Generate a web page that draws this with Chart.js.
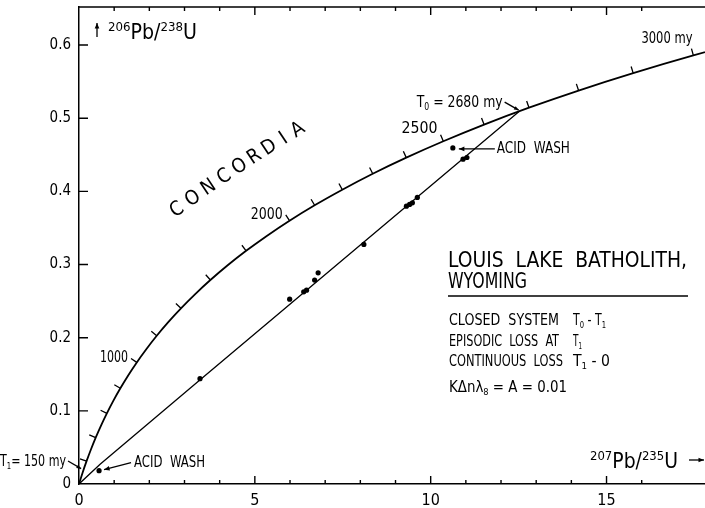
<!DOCTYPE html>
<html>
<head>
<meta charset="utf-8">
<script src="https://cdn.jsdelivr.net/npm/chart.js@4/dist/chart.umd.min.js"></script>
<style>
  html, body { margin: 0; padding: 0; background: #fff; }
  canvas { display: block; }
</style>
</head>
<body>
<canvas id="concordiaChart" width="705" height="508"></canvas>
<script>
// concordia curve, read every 100 my
const concordiaAge = [0, 100, 200, 300, 400, 500, 600, 700, 800, 900, 1000, 1100, 1200, 1300, 1400, 1500,
    1600, 1700, 1800, 1900, 2000, 2100, 2200, 2300, 2400, 2500, 2600, 2700, 2800, 2900, 3000, 3100];
const concordiaX = [0, 0.102, 0.215, 0.339, 0.475, 0.626, 0.792, 0.975, 1.176, 1.398, 1.643, 1.913, 2.210, 2.538,
    2.899, 3.297, 3.736, 4.219, 4.752, 5.339, 5.986, 6.700, 7.486, 8.352, 9.306, 10.359, 11.518, 12.796,
    14.205, 15.758, 17.469, 19.354];
const concordiaY = [0, 0.0155, 0.0312, 0.0472, 0.0634, 0.0799, 0.0966, 0.1136, 0.1308, 0.1484, 0.1662, 0.1842,
    0.2026, 0.2212, 0.2401, 0.2593, 0.2788, 0.2986, 0.3187, 0.3391, 0.3599, 0.3810, 0.4023, 0.4241, 0.4461,
    0.4685, 0.4913, 0.5144, 0.5378, 0.5616, 0.5858, 0.6104];
const concordiaTickAges = [200, 400, 600, 800, 1000, 1200, 1400, 1600, 1800, 2000, 2100, 2200, 2300, 2400,
    2500, 2600, 2700, 2800, 2900, 3000];
const concordiaLabelAges = [1000, 2000, 2500, 3000];
const concordiaLabelTexts = ['1000', '2000', '2500', '3000 my'];

// discordia (T0 = 2680 my to origin)
const discordiaX = [0, 0.6, 3.47, 12.53];
const discordiaY = [0, 0.027, 0.1435, 0.5097];

// zircon fractions
const sampleX = [3.44, 5.99, 6.39, 6.47, 6.70, 6.80, 8.10, 9.31, 9.40, 9.48, 9.62, 10.92, 11.03];
const sampleY = [0.1440, 0.2527, 0.2627, 0.2650, 0.2787, 0.2887, 0.3275, 0.3798, 0.3821, 0.3843, 0.3917, 0.4440, 0.4463];
const acidWashX = [0.57, 10.63];
const acidWashY = [0.0182, 0.4594];

const xTickLabels = ['0', '5', '10', '15'];
const yTickLabels = ['0', '0.1', '0.2', '0.3', '0.4', '0.5', '0.6'];

const FONT = '"Liberation Sans Narrow", "DejaVu Sans Condensed", "Liberation Sans", sans-serif';

function pts(xs, ys) {
    return xs.map((x, i) => ({ x: x, y: ys[i] }));
}

// text with sub/superscripts, optionally squeezed to a width
function drawRich(ctx, parts, x, y, size, width) {
    let w = 0;
    parts.forEach(p => {
        ctx.font = (p[1] ? size * 0.62 : size) + 'px ' + FONT;
        w += ctx.measureText(p[0]).width;
    });
    const k = width ? width / w : 1;
    ctx.save();
    ctx.translate(x, y);
    ctx.scale(k, 1);
    ctx.textBaseline = 'middle';
    ctx.textAlign = 'left';
    ctx.fillStyle = '#000';
    let cx = 0;
    parts.forEach(p => {
        const s = p[1] ? size * 0.62 : size;
        ctx.font = s + 'px ' + FONT;
        const dy = p[1] === 'sub' ? size * 0.28 : (p[1] === 'sup' ? -size * 0.3 : 0);
        ctx.fillText(p[0], cx, dy);
        cx += ctx.measureText(p[0]).width;
    });
    ctx.restore();
}

function arrow(ctx, x1, y1, x2, y2, head) {
    const a = Math.atan2(y2 - y1, x2 - x1);
    ctx.beginPath();
    ctx.moveTo(x1, y1);
    ctx.lineTo(x2, y2);
    ctx.stroke();
    ctx.beginPath();
    ctx.moveTo(x2, y2);
    ctx.lineTo(x2 - head * Math.cos(a - 0.4), y2 - head * Math.sin(a - 0.4));
    ctx.lineTo(x2 - head * Math.cos(a + 0.4), y2 - head * Math.sin(a + 0.4));
    ctx.closePath();
    ctx.fill();
}

const decorations = {
    id: 'decorations',
    afterDraw(chart) {
        const ctx = chart.ctx;
        const xs = chart.scales.x, ys = chart.scales.y;
        const area = chart.chartArea;
        const px = v => xs.getPixelForValue(v);
        const py = v => ys.getPixelForValue(v);
        ctx.save();
        ctx.strokeStyle = '#000';
        ctx.fillStyle = '#000';
        ctx.lineWidth = 1.4;

        // frame ticks drawn inside
        ctx.beginPath();
        ctx.moveTo(area.left, area.top);
        ctx.lineTo(area.right, area.top);
        xs.ticks.forEach(t => {
            const v = t.value;
            if (v <= 0 || Math.abs(v - Math.round(v)) > 1e-6) return;
            const len = Math.round(v) % 5 === 0 ? 8 : 4;
            ctx.moveTo(px(v), area.bottom);
            ctx.lineTo(px(v), area.bottom - len);
            ctx.moveTo(px(v), area.top);
            ctx.lineTo(px(v), area.top + len);
        });
        ys.ticks.forEach(t => {
            const k = Math.round(t.value * 10);
            if (k <= 0 || Math.abs(t.value - k / 10) > 1e-6) return;
            ctx.moveTo(area.left, py(t.value));
            ctx.lineTo(area.left + 9, py(t.value));
        });
        ctx.stroke();

        // age ticks on concordia
        ctx.lineWidth = 1.3;
        const tipOf = age => {
            const i = concordiaAge.indexOf(age);
            const x0 = px(concordiaX[i - 1]), y0 = py(concordiaY[i - 1]);
            const x1 = px(concordiaX[i + 1]), y1 = py(concordiaY[i + 1]);
            const dx = x1 - x0, dy = y1 - y0, n = Math.hypot(dx, dy);
            const bx = px(concordiaX[i]), by = py(concordiaY[i]);
            return { bx: bx, by: by, tx: bx + 7 * dy / n, ty: by - 7 * dx / n };
        };
        ctx.beginPath();
        concordiaTickAges.forEach(age => {
            const t = tipOf(age);
            ctx.moveTo(t.bx, t.by);
            ctx.lineTo(t.tx, t.ty);
        });
        ctx.stroke();
        const labelWidths = [28, 32, 36, 51];
        concordiaLabelAges.forEach((age, j) => {
            const t = tipOf(age);
            const w = labelWidths[j];
            const up = age === 3000 ? 10 : (age === 2500 ? 6 : 0);
            const gap = age === 3000 ? -1 : 3;
            drawRich(ctx, [[concordiaLabelTexts[j], '']], t.tx - gap - w, t.ty - up, 15, w);
        });

        // CONCORDIA lettering
        const word = 'CONCORDIA';
        const sx = area.left + 98, sy = area.top + 203, ex = area.left + 219, ey = area.top + 123;
        const ang = Math.atan2(ey - sy, ex - sx);
        ctx.font = '20px ' + FONT;
        ctx.textAlign = 'center';
        ctx.textBaseline = 'middle';
        for (let i = 0; i < word.length; i++) {
            const f = i / (word.length - 1);
            const bend = Math.sin(f * Math.PI) * -4;
            ctx.save();
            ctx.translate(sx + (ex - sx) * f + bend * Math.sin(ang), sy + (ey - sy) * f + bend * Math.cos(ang));
            ctx.rotate(ang);
            ctx.fillText(word[i], 0, 0);
            ctx.restore();
        }

        // axis titles
        ctx.lineWidth = 1.3;
        arrow(ctx, 97, 37, 97, 23, 6);
        drawRich(ctx, [['206', 'sup'], ['Pb/', ''], ['238', 'sup'], ['U', '']], 108, 34, 21, 89);
        drawRich(ctx, [['207', 'sup'], ['Pb/', ''], ['235', 'sup'], ['U', '']], 590, 463, 21, 88);
        arrow(ctx, 689, 460, 704, 460, 6);

        // annotations
        const t0x = px(discordiaX[discordiaX.length - 1]), t0y = py(discordiaY[discordiaY.length - 1]);
        drawRich(ctx, [['T', ''], ['0', 'sub'], [' = 2680 my', '']], t0x - 103, t0y - 8, 16, 86);
        arrow(ctx, t0x - 15, t0y - 9, t0x - 1, t0y - 1, 5);

        drawRich(ctx, [['T', ''], ['1', 'sub'], ['= 150 my', '']], 0, 462, 15, 66);
        arrow(ctx, 68, 461, px(0.06), py(0.021), 5);

        const a0x = px(acidWashX[0]), a0y = py(acidWashY[0]);
        drawRich(ctx, [['ACID  WASH', '']], a0x + 35, a0y - 8, 15, 71);
        arrow(ctx, a0x + 32, a0y - 8, a0x + 5, a0y - 1, 6);
        const a1x = px(acidWashX[1]), a1y = py(acidWashY[1]);
        drawRich(ctx, [['ACID  WASH', '']], a1x + 44, a1y + 1, 15, 73);
        arrow(ctx, a1x + 42, a1y + 1, a1x + 6, a1y + 1, 6);

        // title block
        drawRich(ctx, [['LOUIS  LAKE  BATHOLITH,', '']], 448, 262, 21, 239);
        drawRich(ctx, [['WYOMING', '']], 448, 283, 21, 79);
        ctx.lineWidth = 1.5;
        ctx.beginPath();
        ctx.moveTo(448, 296);
        ctx.lineTo(688, 296);
        ctx.stroke();
        drawRich(ctx, [['CLOSED  SYSTEM', '']], 449, 321, 15, 110);
        drawRich(ctx, [['T', ''], ['0', 'sub'], [' - ', ''], ['T', ''], ['1', 'sub']], 573, 321, 15, 33);
        drawRich(ctx, [['EPISODIC  LOSS  AT', '']], 449, 342, 15, 110);
        drawRich(ctx, [['T', ''], ['1', 'sub']], 573, 342, 15, 9);
        drawRich(ctx, [['CONTINUOUS  LOSS', '']], 449, 362, 15, 114);
        drawRich(ctx, [['T', ''], ['1', 'sub'], [' - 0', '']], 573, 362, 15, 37);
        drawRich(ctx, [['K\u0394n\u03bb', ''], ['8', 'sub'], [' = A = 0.01', '']], 449, 388, 15, 118);
        ctx.restore();
    }
};

const ctx = document.getElementById('concordiaChart').getContext('2d');
const chart = new Chart(ctx, {
    type: 'scatter',
    data: {
        datasets: [{
            label: 'Concordia',
            data: pts(concordiaX, concordiaY),
            showLine: true,
            cubicInterpolationMode: 'monotone',
            borderColor: '#000',
            borderWidth: 1.8,
            pointRadius: 0
        }, {
            label: 'Discordia',
            data: pts(discordiaX, discordiaY),
            showLine: true,
            borderColor: '#000',
            borderWidth: 1.3,
            pointRadius: 0
        }, {
            label: 'Samples',
            data: pts(sampleX, sampleY),
            backgroundColor: '#000',
            borderWidth: 0,
            pointRadius: 2.6
        }, {
            label: 'Acid wash',
            data: pts(acidWashX, acidWashY),
            backgroundColor: '#000',
            borderWidth: 0,
            pointRadius: 2.6
        }]
    },
    options: {
        responsive: false,
        animation: false,
        layout: { autoPadding: false, padding: { top: 7, right: 0, left: 0, bottom: 0 } },
        plugins: {
            legend: { display: false },
            tooltip: { enabled: false }
        },
        scales: {
            x: {
                type: 'linear',
                min: 0,
                max: 17.8,
                afterFit: s => { s.height = 24; s.paddingLeft = 0; s.paddingRight = 0; },
                grid: { display: false, drawTicks: false },
                border: { display: true, color: '#000', width: 1.5 },
                ticks: {
                    stepSize: 1,
                    autoSkip: false,
                    maxRotation: 0,
                    padding: 7,
                    color: '#000',
                    font: { family: FONT, size: 16 },
                    callback: v => (Math.abs(v % 5) < 1e-6 ? xTickLabels[Math.round(v / 5)] : '')
                }
            },
            y: {
                type: 'linear',
                min: 0,
                max: 0.652,
                afterFit: s => { s.width = 79; s.paddingTop = 0; s.paddingBottom = 0; },
                grid: { display: false, drawTicks: false },
                border: { display: true, color: '#000', width: 1.5 },
                ticks: {
                    stepSize: 0.1,
                    autoSkip: false,
                    padding: 8,
                    color: '#000',
                    font: { family: FONT, size: 15 },
                    callback: v => {
                        const k = Math.round(v * 10);
                        return Math.abs(v - k / 10) < 1e-6 ? yTickLabels[k] : '';
                    }
                }
            }
        }
    },
    plugins: [decorations]
});
</script>
</body>
</html>
